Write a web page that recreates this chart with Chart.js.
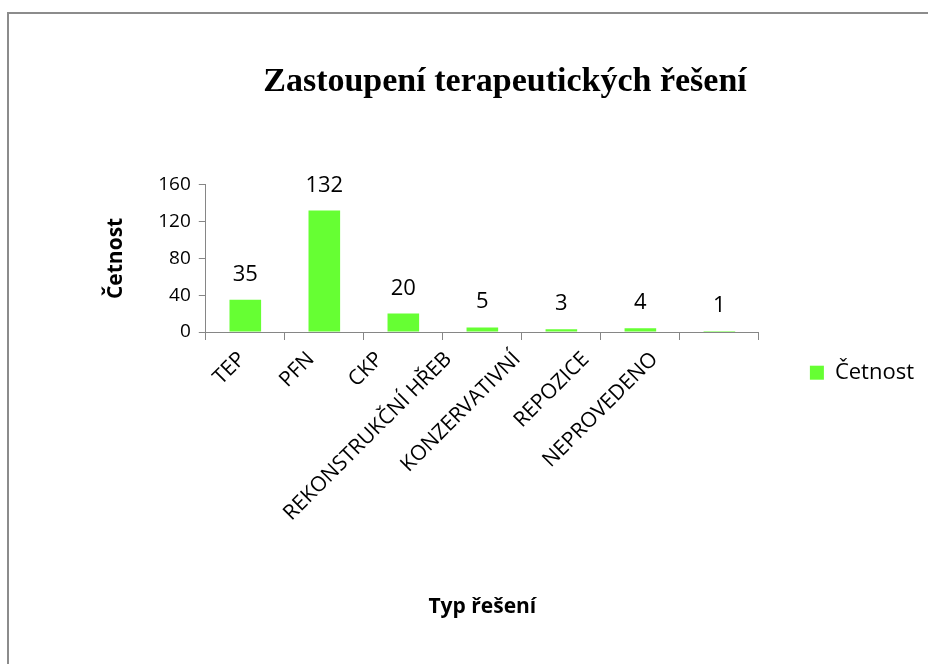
<!DOCTYPE html>
<html>
<head>
<meta charset="utf-8">
<script src="https://cdn.jsdelivr.net/npm/chart.js@4.4.0/dist/chart.umd.min.js"></script>
<style>
  html, body { margin: 0; padding: 0; background: #fff; overflow: hidden; }
  #frame { position: absolute; left: 7px; top: 12px; width: 1000px; height: 700px; border: 2px solid #8c8c8c; box-sizing: border-box; }
  #chart { position: absolute; left: 0; top: 0; }
</style>
</head>
<body>
<div id="frame"></div>
<canvas id="chart" width="928" height="664"></canvas>
<script>
const categories = ["TEP", "PFN", "CKP", "REKONSTRUKČNÍ HŘEB", "KONZERVATIVNÍ", "REPOZICE", "NEPROVEDENO"];
const counts = [35, 132, 20, 5, 3, 4, 1];
const yTicks = [0, 40, 80, 120, 160];

const seriesName = "Četnost";
const chartTitle = "Zastoupení terapeutických řešení";
const xTitle = "Typ řešení";
const yTitle = "Četnost";

// value labels above the bars
const barLabels = {
  id: 'barLabels',
  afterDatasetsDraw(chart) {
    const ctx = chart.ctx;
    const meta = chart.getDatasetMeta(0);
    ctx.save();
    ctx.font = '22px "Open Sans"';
    ctx.fillStyle = '#000';
    ctx.textAlign = 'center';
    ctx.textBaseline = 'alphabetic';
    meta.data.forEach((bar, i) => {
      ctx.fillText(String(counts[i]), bar.x, bar.y - 19);
    });
    ctx.restore();
  }
};

Chart.defaults.color = '#000';

const ctx = document.getElementById("chart").getContext("2d");
new Chart(ctx, {
  type: 'bar',
  data: {
    labels: categories,
    datasets: [{
      label: seriesName,
      data: counts,
      backgroundColor: '#66ff33',
      borderWidth: 0,
      categoryPercentage: 1,
      barPercentage: 0.4
    }]
  },
  plugins: [barLabels],
  options: {
    responsive: false,
    animation: false,
    layout: { padding: { left: 86, right: 4, top: 16, bottom: 0 } },
    plugins: {
      title: {
        display: true,
        text: chartTitle,
        font: { family: '"Liberation Serif"', size: 34, weight: 'bold' },
        padding: { top: 46, bottom: 82 }
      },
      legend: {
        position: 'right',
        title: { display: true, text: ' ', font: { size: 12 }, padding: { top: 0, bottom: 51 } },
        labels: {
          boxWidth: 14,
          boxHeight: 14,
          padding: 51,
          font: { family: '"Open Sans"', size: 22 }
        }
      },
      tooltip: { enabled: false }
    },
    scales: {
      // category axis: line + tick marks only
      x: {
        weight: 0,
        grid: { drawOnChartArea: false, tickLength: 8, color: '#868686' },
        border: { color: '#868686' },
        ticks: { display: false }
      },
      // label axis: the slanted labels sit a bit tighter than the bars, like in the original
      x2: {
        type: 'linear',
        position: 'bottom',
        weight: 1,
        offset: false,
        bounds: 'data',
        min: -0.531,
        max: 7.519,
        afterBuildTicks(scale) { scale.ticks = categories.map((c, i) => ({ value: i })); },
        grid: { display: false },
        border: { display: false },
        ticks: {
          autoSkip: false,
          minRotation: 45,
          maxRotation: 45,
          padding: -1,
          font: { family: '"Open Sans"', size: 21 },
          callback: (v, i) => categories[i]
        },
        title: {
          display: true,
          text: xTitle,
          font: { family: '"Open Sans"', size: 21, weight: 'bold' },
          padding: { top: 70, bottom: 44 }
        }
      },
      y: {
        min: 0,
        max: 160,
        afterBuildTicks(scale) { scale.ticks = yTicks.map(v => ({ value: v })); },
        grid: { drawOnChartArea: false, tickLength: 7, color: '#868686' },
        border: { color: '#868686' },
        ticks: {
          padding: 8,
          font: { family: '"Open Sans"', size: 19 }
        },
        title: {
          display: true,
          text: yTitle,
          font: { family: '"Open Sans"', size: 21, weight: 'bold' },
          padding: { top: 17, bottom: 22 }
        }
      }
    }
  }
});
</script>
</body>
</html>
